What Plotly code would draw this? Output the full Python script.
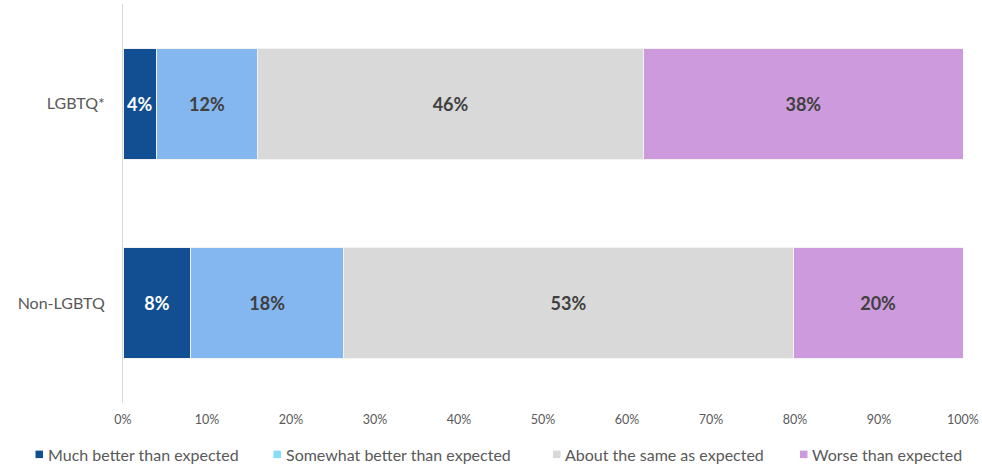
import plotly.graph_objects as go

categories = ["LGBTQ*", "Non-LGBTQ"]
series_names = ["Much better than expected", "Somewhat better than expected",
                "About the same as expected", "Worse than expected"]
much_better = [4, 8]
somewhat_better = [12, 18]
about_same = [46, 53]
worse = [38, 20]
x_ticks = [0, 10, 20, 30, 40, 50, 60, 70, 80, 90, 100]

bar_colors = ["#114E92", "#84B6EF", "#D9D9D9", "#CE9ADE"]
legend_colors = ["#114E92", "#86DDFA", "#D9D9D9", "#CE9ADE"]
label_colors = ["#FFFFFF", "#404040", "#404040", "#404040"]
font_family = "Lato, 'Open Sans', sans-serif"

W, H = 982, 468
ML, MR, MT, MB = 123, 19, 3.5, 64.5
PW, PH = W - ML - MR, H - MT - MB

fig = go.Figure()
for name, vals, col, lc in zip(series_names, [much_better, somewhat_better, about_same, worse],
                               bar_colors, label_colors):
    fig.add_trace(go.Bar(
        y=categories, x=vals, orientation="h", name=name, showlegend=False,
        marker=dict(color=col, line=dict(color="#F2F2F2", width=1)),
        text=[f"<b>{v}%</b>" for v in vals], textposition="inside",
        insidetextanchor="middle", textangle=0,
        textfont=dict(color=lc, size=18, family=font_family),
        hoverinfo="skip",
    ))

# manual legend (swatch + label), positioned in pixels converted to paper coords
legend_swatch_px = [35.5, 273.5, 553, 800]
legend_y_px = 455
sw = 7.5
def px_x(p):
    return (p - ML) / PW
def px_y(p):
    return (H - MB - p) / PH
for name, col, sx in zip(series_names, legend_colors, legend_swatch_px):
    fig.add_shape(type="rect", xref="paper", yref="paper",
                  x0=px_x(sx), x1=px_x(sx + sw),
                  y0=px_y(legend_y_px + sw / 2), y1=px_y(legend_y_px - sw / 2),
                  fillcolor=col, line=dict(width=0))
    fig.add_annotation(xref="paper", yref="paper", x=px_x(sx + sw + 2.5),
                       y=px_y(legend_y_px), xanchor="left", yanchor="middle",
                       text=name, showarrow=False,
                       font=dict(size=16, color="#595959", family=font_family))

fig.update_layout(
    barmode="stack", barnorm="percent", bargap=0.445,
    width=W, height=H,
    margin=dict(l=ML, r=MR, t=MT, b=MB),
    plot_bgcolor="white", paper_bgcolor="white",
    font=dict(family=font_family, color="#595959"),
    uniformtext=dict(mode="show", minsize=8),
    showlegend=False,
    xaxis=dict(range=[0, 100], tickvals=x_ticks, ticktext=[f"{t}%" for t in x_ticks],
               showgrid=False, zeroline=False, showline=False, automargin=False,
               ticklabelstandoff=7,
               tickfont=dict(size=12.5, color="#595959"), ticks=""),
    yaxis=dict(categoryorder="array", categoryarray=categories, range=[1.5, -0.5],
               showgrid=False, showline=True, linecolor="#D9D9D9", linewidth=1,
               automargin=False, ticklabelstandoff=14,
               tickfont=dict(size=16, color="#595959"), ticks=""),
)

fig.write_html("out.html", config={"displayModeBar": False},
               post_script="document.body.style.margin='0';")
